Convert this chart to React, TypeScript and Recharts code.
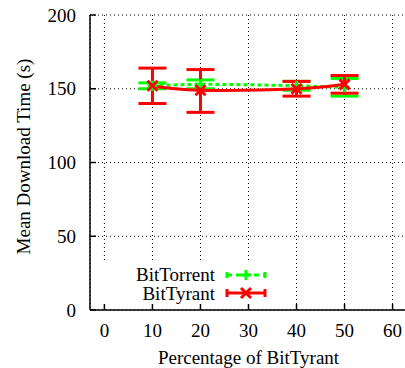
import React from 'react';
import {
  CartesianGrid,
  ErrorBar,
  Label,
  Legend,
  Line,
  LineChart,
  XAxis,
  YAxis,
} from 'recharts';

const percentages = [10, 20, 40, 50];
const bitTorrentTime = [152, 153, 152, 151];
const bitTorrentErr = [2, 3, 3, 6];
const bitTyrantTime = [152, 149, 150, 153];
const bitTyrantErr: [number, number][] = [
  [12, 12],
  [15, 14],
  [5, 5],
  [6, 6],
];
const xTicks = [0, 10, 20, 30, 40, 50, 60];
const yTicks = [0, 50, 100, 150, 200];

const GREEN = '#00ff00';
const RED = '#ff0000';
const FONT = '"Liberation Serif", serif';
const FS = 19;

const data = percentages.map((p, i) => ({
  pct: p,
  torrent: bitTorrentTime[i],
  torrentErr: bitTorrentErr[i],
  tyrant: bitTyrantTime[i],
  tyrantErr: bitTyrantErr[i],
}));

const PlusDot = (props: any) => {
  const { cx, cy } = props;
  if (cx == null || cy == null) return <g />;
  return (
    <g stroke={GREEN} strokeWidth={3}>
      <line x1={cx - 5} y1={cy} x2={cx + 5} y2={cy} />
      <line x1={cx} y1={cy - 5} x2={cx} y2={cy + 5} />
    </g>
  );
};

const CrossDot = (props: any) => {
  const { cx, cy } = props;
  if (cx == null || cy == null) return <g />;
  return (
    <g stroke={RED} strokeWidth={3}>
      <line x1={cx - 5} y1={cy - 5} x2={cx + 5} y2={cy + 5} />
      <line x1={cx - 5} y1={cy + 5} x2={cx + 5} y2={cy - 5} />
    </g>
  );
};

// legend key, drawn in a white box so the grid stops behind it like gnuplot's
const KeyBox = () => (
  <svg width={175} height={42} style={{ display: 'block', background: '#fff' }}>
    <g fontFamily={FONT} fontSize={FS} fill="#000" textAnchor="end">
      <text x={117} y={18.5}>BitTorrent</text>
      <text x={117} y={37.5}>BitTyrant</text>
    </g>
    <g stroke={GREEN} strokeWidth={3}>
      <line x1={129} y1={13} x2={167} y2={13} strokeDasharray="5 4" />
      <line x1={129} y1={10} x2={129} y2={16} />
      <line x1={167} y1={10} x2={167} y2={16} />
      <line x1={143} y1={13} x2={153} y2={13} />
      <line x1={148} y1={8} x2={148} y2={18} />
    </g>
    <g stroke={RED} strokeWidth={3}>
      <line x1={129} y1={31} x2={167} y2={31} />
      <line x1={129} y1={27} x2={129} y2={35} />
      <line x1={167} y1={27} x2={167} y2={35} />
      <line x1={143} y1={26} x2={153} y2={36} />
      <line x1={143} y1={36} x2={153} y2={26} />
    </g>
  </svg>
);

export default function App() {
  return (
    <div
      style={{
        position: 'fixed',
        left: 0,
        top: 0,
        width: 405,
        height: 368,
        overflow: 'hidden',
        background: '#fff',
      }}
    >
      <LineChart
        width={410}
        height={368}
        data={data}
        margin={{ top: 15, right: 3, left: 0, bottom: 0 }}
      >
        <CartesianGrid stroke="#000" strokeDasharray="1 3" strokeWidth={1} />
        <XAxis
          dataKey="pct"
          type="number"
          domain={[-3, 63]}
          ticks={xTicks}
          height={58}
          stroke="#000"
          strokeWidth={1.5}
          tickSize={-6}
          tickMargin={20}
          tick={{ fontSize: FS, fill: '#000', fontFamily: FONT }}
          allowDataOverflow
        >
          <Label
            value="Percentage of BitTyrant"
            position="insideBottom"
            offset={4}
            style={{ fontSize: FS, fill: '#000', fontFamily: FONT }}
          />
        </XAxis>
        <XAxis
          xAxisId="top"
          orientation="top"
          dataKey="pct"
          type="number"
          domain={[-3, 63]}
          ticks={xTicks}
          height={0}
          stroke="#000"
          strokeWidth={1.5}
          tickSize={-6}
          tick={() => <g />}
          allowDataOverflow
        />
        <YAxis
          type="number"
          domain={[0, 200]}
          ticks={yTicks}
          width={90}
          stroke="#000"
          strokeWidth={1.5}
          tickSize={-6}
          tickMargin={20}
          tick={{ fontSize: FS, fill: '#000', fontFamily: FONT }}
        >
          <Label
            value="Mean Download Time (s)"
            angle={-90}
            position="insideLeft"
            offset={23}
            dy={-6}
            style={{ fontSize: FS, fill: '#000', fontFamily: FONT, textAnchor: 'middle' }}
          />
        </YAxis>
        <Legend
          layout="vertical"
          align="center"
          verticalAlign="middle"
          wrapperStyle={{ left: 98, top: 262, width: 175, height: 42 }}
          content={() => <KeyBox />}
        />
        <Line
          dataKey="torrent"
          name="BitTorrent"
          type="monotone"
          stroke={GREEN}
          strokeWidth={3}
          strokeDasharray="4 3"
          dot={<PlusDot />}
          isAnimationActive={false}
        >
          <ErrorBar dataKey="torrentErr" width={14} strokeWidth={3} stroke={GREEN} direction="y" />
        </Line>
        <Line
          dataKey="tyrant"
          name="BitTyrant"
          type="natural"
          stroke={RED}
          strokeWidth={3}
          dot={<CrossDot />}
          isAnimationActive={false}
        >
          <ErrorBar dataKey="tyrantErr" width={14} strokeWidth={3} stroke={RED} direction="y" />
        </Line>
      </LineChart>
    </div>
  );
}
